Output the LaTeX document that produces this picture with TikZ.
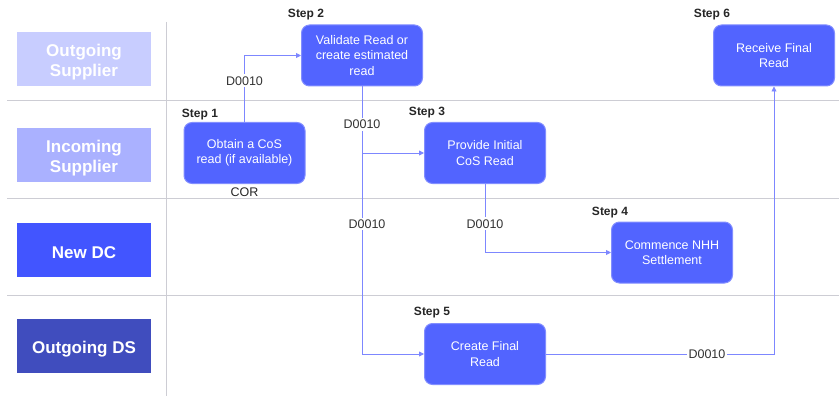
\documentclass[tikz,border=0pt]{standalone}
\usepackage{fontspec}
\setmainfont{Liberation Sans}
\usetikzlibrary{arrows.meta,positioning}
\definecolor{stepblue}{RGB}{82,100,255}
\definecolor{stepedge}{RGB}{130,142,255}
\definecolor{flowline}{RGB}{125,135,255}
\definecolor{laneline}{RGB}{205,205,212}
\definecolor{laneA}{RGB}{200,205,255}
\definecolor{laneB}{RGB}{170,177,255}
\definecolor{laneC}{RGB}{66,85,255}
\definecolor{laneD}{RGB}{64,77,190}
\begin{document}
\begin{tikzpicture}[x=1pt, y=-1pt, every node/.style={font=\fontsize{12.5}{15.5}\selectfont}, lanebox/.style={fill=#1,text=white,minimum width=134pt,minimum height=54pt,align=center,inner sep=0pt,text depth=0pt,font=\fontsize{17}{20}\selectfont\bfseries}, stepbox/.style={draw=stepedge,line width=1pt,fill=stepblue,text=white,rounded corners=8pt,align=center,minimum width=121pt,minimum height=61pt,inner sep=2pt}, steplbl/.style={font=\fontsize{12}{14}\selectfont\bfseries,text=black!85}, msg/.style={fill=white,inner sep=2pt,text=black!80}, flow/.style={draw=flowline,line width=0.9pt}, >={Triangle[length=5pt,width=5pt]}]
\useasboundingbox (0,0) rectangle (839,396);
\draw[laneline, line width=0.9pt] (7,100) -- (839,100);
\draw[laneline, line width=0.9pt] (7,198) -- (839,198);
\draw[laneline, line width=0.9pt] (7,295) -- (839,295);
\draw[laneline, line width=0.9pt] (166,22) -- (166,396);
\node[lanebox=laneA] (outsup) at (84,59) {\raisebox{-2pt}{\shortstack{Outgoing\\[1pt]Supplier}}};
\node[lanebox=laneB] (insup) at (84,155) {\raisebox{-2pt}{\shortstack{Incoming\\[1pt]Supplier}}};
\node[lanebox=laneC] (newdc) at (84,250) {\raisebox{-4.5pt}{New DC}};
\node[lanebox=laneD] (outds) at (84,345.5) {\raisebox{-4.5pt}{Outgoing DS}};
\node[stepbox] (s1) at (244.5,153) {Obtain a CoS\\read (if available)};
\node[stepbox] (s2) at (362,55.5) {Validate Read or\\create estimated\\read};
\node[stepbox] (s3) at (485,153) {Provide Initial\\CoS Read};
\node[stepbox] (s4) at (672,252.5) {Commence NHH\\Settlement};
\node[stepbox] (s5) at (485,354) {Create Final\\Read};
\node[stepbox] (s6) at (774,55.5) {Receive Final\\Read};
\node[steplbl] (t1) at (200,115) {Step 1};
\node[steplbl] (t2) at (306,15) {Step 2};
\node[steplbl] (t3) at (427,113) {Step 3};
\node[steplbl] (t4) at (610,213) {Step 4};
\node[steplbl] (t5) at (432,313) {Step 5};
\node[steplbl] (t6) at (712,15) {Step 6};
\node[text=black!85] (cor) at (244.5,192) {COR};
\draw[flow,->] (s1.north) |- node[msg, pos=0.31] {D0010} (s2.west);
\draw[flow,->] (s2.south) |- node[msg, pos=0.071] {D0010} node[msg, pos=0.257, xshift=5pt] {D0010} (s5.west);
\draw[flow,->] (s2.south |- s3.west) -- (s3.west);
\draw[flow,->] (s3.south) |- node[msg, pos=0.29] {D0010} (s4.west);
\draw[flow,->] (s5.east) -| node[msg, pos=0.353] {D0010} (s6.south);
\end{tikzpicture}
\end{document}
